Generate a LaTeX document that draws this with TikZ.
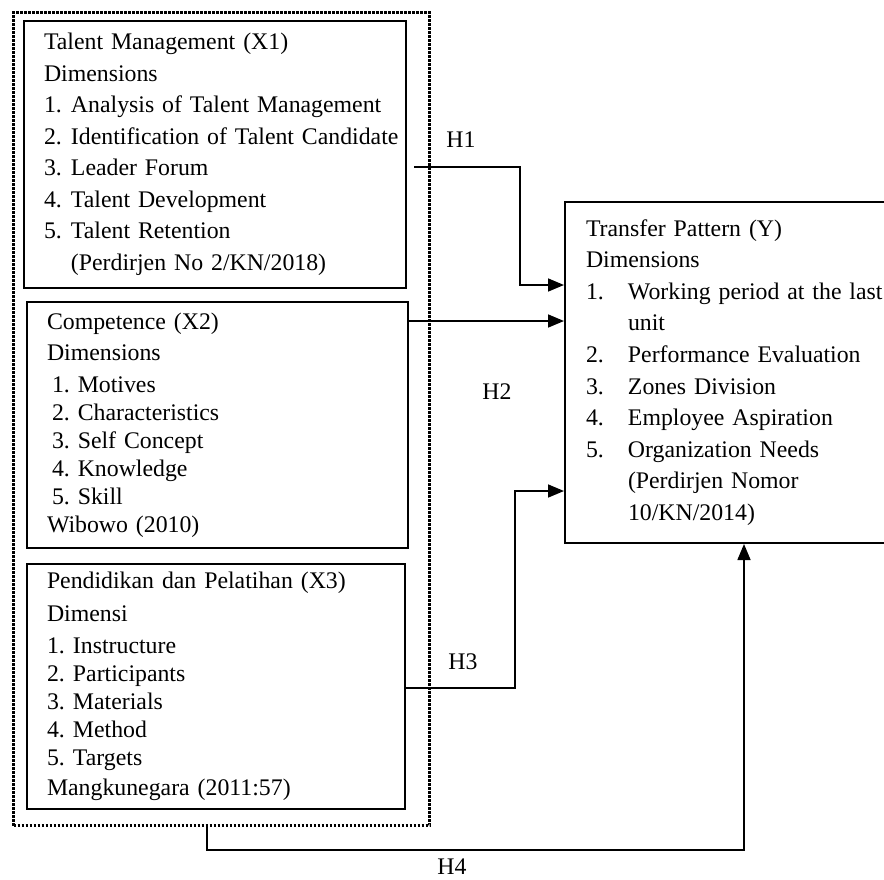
\documentclass[tikz,border=0pt]{standalone}
\usepackage{fontspec}
\setmainfont{Liberation Serif}
\frenchspacing
\usetikzlibrary{arrows.meta,calc}
\tikzset{varbox/.style={draw, line width=1pt, anchor=north west, inner xsep=0pt, inner ysep=0pt, align=left, execute at begin node={\leftskip=#1}},
    varbox/.default={10pt},
    groupbox/.style={draw, line width=1.5pt, dash pattern=on 1.2pt off 0.8pt, anchor=north west, inner sep=0pt},
    hypo/.style={draw, line width=0.8pt, -{Triangle[length=8pt, width=6.5pt]}},
    hlabel/.style={inner sep=0pt}}
\newcommand{\boxfont}[1]{\fontsize{11.9pt}{#1}\selectfont}
\newcommand{\itemno}[2]{\makebox[#1][l]{#2}}

\begin{document}
\begin{tikzpicture}[x=0.5pt, y=-0.5pt, font=\boxfont{14pt}]
        \useasboundingbox (0,0) rectangle (884,879);
        \node[groupbox, minimum width=208pt, minimum height=406.5pt] (grp) at (12,11) {};
        \node[varbox, text width=191pt, minimum height=133.5pt, font=\boxfont{15.75pt}] (tm) at (23,20) {Talent Management (X1)\\
            Dimensions\\
            \itemno{13.5pt}{1.}Analysis of Talent Management\\
            \itemno{13.5pt}{2.}Identification of Talent Candidate\\
            \itemno{13.5pt}{3.}Leader Forum\\
            \itemno{13.5pt}{4.}Talent Development\\
            \itemno{13.5pt}{5.}Talent Retention\\
            \hspace*{13.5pt}(Perdirjen No 2/KN/2018)};
        \node[varbox, text width=190.5pt, minimum height=123pt] (cp) at (26,301) {Competence (X2)\\[1.5pt]
            Dimensions\\[2pt]
            \hspace*{2.5pt}1. Motives\\
            \hspace*{2.5pt}2. Characteristics\\
            \hspace*{2.5pt}3. Self Concept\\
            \hspace*{2.5pt}4. Knowledge\\
            \hspace*{2.5pt}5. Skill\\
            Wibowo (2010)};
        \node[varbox, text width=189pt, minimum height=122.5pt] (pp) at (26,563) {Pendidikan dan Pelatihan (X3)\\[2.5pt]
            Dimensi\\[2pt]
            \itemno{13pt}{1.}Instructure\\
            \itemno{13pt}{2.}Participants\\
            \itemno{13pt}{3.}Materials\\
            \itemno{13pt}{4.}Method\\
            \itemno{13pt}{5.}Targets\\[1pt]
            Mangkunegara (2011:57)};
        \node[varbox=10.5pt, text width=168pt, minimum height=170.5pt, font=\boxfont{15.8pt}] (tp) at (564,201) {Transfer Pattern (Y)\\
            Dimensions\\
            \itemno{21pt}{1.}Working period at the last\\
            \hspace*{21pt}unit\\
            \itemno{21pt}{2.}Performance Evaluation\\
            \itemno{21pt}{3.}Zones Division\\
            \itemno{21pt}{4.}Employee Aspiration\\
            \itemno{21pt}{5.}Organization Needs\\
            \hspace*{21pt}(Perdirjen Nomor\\
            \hspace*{21pt}10/KN/2014)};
        \draw[hypo] ($(tm.east |- 0,167)+(7,0)$) -| (520,285) -- (tp.west |- 0,285);
        \draw[hypo] (cp.east |- 0,321) -- (tp.west |- 0,321);
        \draw[hypo] (pp.east |- 0,688) -| (515,491) -- (tp.west |- 0,491);
        \draw[hypo] (grp.south -| 207,0) |- (744,850) -- (tp.south -| 744,0);
        \node[hlabel] (h1) at (461,140) {H1};
        \node[hlabel] (h2) at (497,392) {H2};
        \node[hlabel] (h3) at (463,662) {H3};
        \node[hlabel] (h4) at (452,867) {H4};
\end{tikzpicture}
\end{document}
